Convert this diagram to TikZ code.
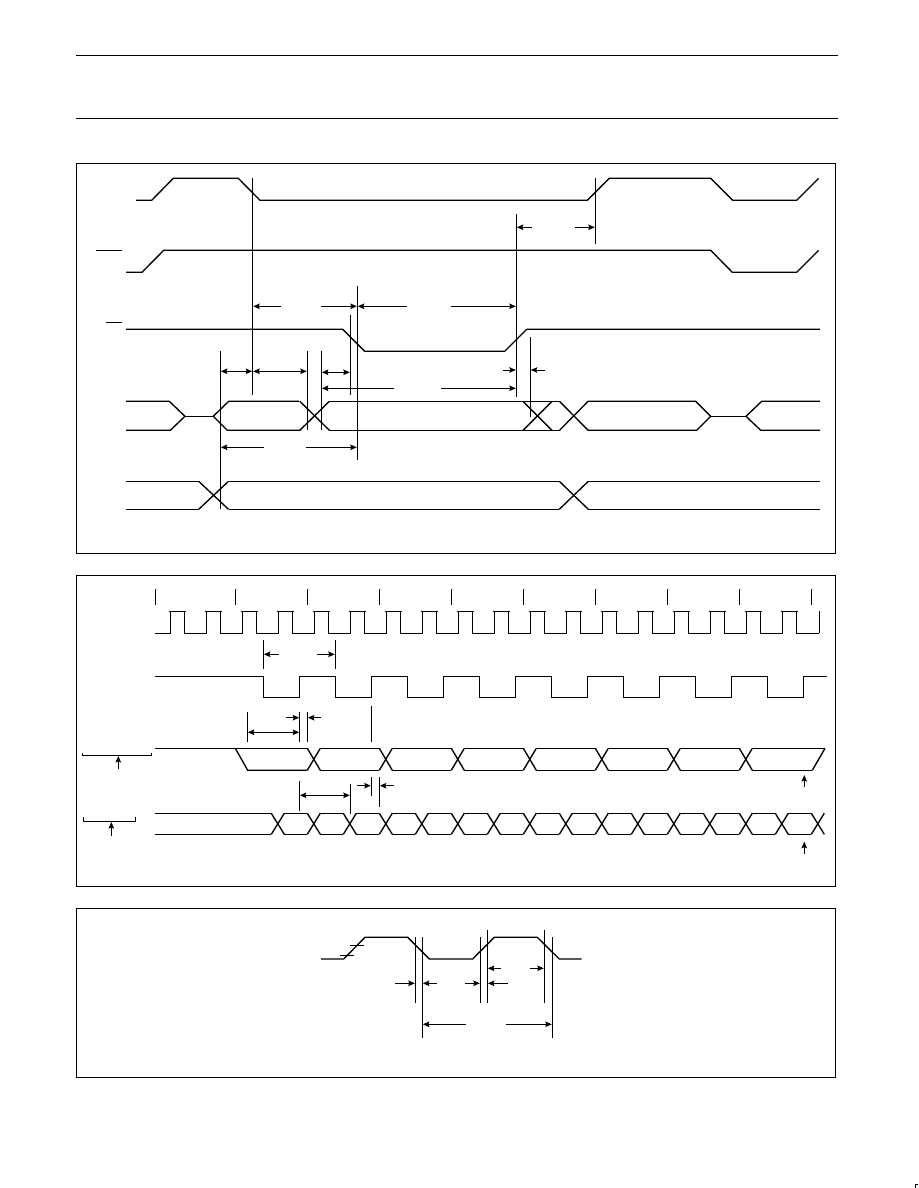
\documentclass[tikz,border=0pt]{standalone}
\usetikzlibrary{arrows.meta}
\tikzset{
	wave/.style={line width=1.35pt, line join=miter},
	guide/.style={line width=1pt},
	panel/.style={line width=1.1pt},
	dim/.style={line width=1pt, -{Stealth[length=6.5pt,width=5.5pt,inset=1pt]}},
	dimboth/.style={line width=1pt, {Stealth[length=6.5pt,width=5.5pt,inset=1pt]}-{Stealth[length=6.5pt,width=5.5pt,inset=1pt]}}
}
\def\crossing(#1:#2:#3:#4){\draw[wave] (#1, #2) -- ({#1+#4}, #3); \draw[wave] (#1, #3) -- ({#1+#4}, #2);}
\begin{document}
\begin{tikzpicture}[x=1pt, y=-1pt]
		\useasboundingbox (0, 0) rectangle (918, 1188);
		%%%%% START %%%%%
		\draw[panel] (76, 55.5) -- (838, 55.5);
		\draw[panel] (76, 118.5) -- (838, 118.5);
		\draw[panel] (76.3, 163.7) rectangle (835.7, 553.3);
		\draw[panel] (76.3, 575.3) rectangle (835.7, 886.3);
		\draw[panel] (76.3, 908.5) rectangle (835.7, 1077.4);
		\draw[line width=1pt] (915.5, 1188) -- (915.5, 1184.5) -- (918, 1184.5);
		
		% first panel: waves
		\draw[wave] (136, 200.3) -- (151.7, 200.3) -- (173.3, 178.3) -- (238.3, 178.3) -- (260, 200.3) -- (587.3, 200.3) -- (609.3, 178.3) -- (710.7, 178.3) -- (732.7, 200.3) -- (796.7, 200.3) -- (818.7, 178.3);
		
		\draw[guide] (96, 250.3) -- (122, 250.3);
		\draw[wave] (126, 272.3) -- (142, 272.3) -- (163.7, 250.3) -- (710.7, 250.3) -- (732.3, 272.3) -- (796.7, 272.3) -- (818.7, 250.3);
		
		\draw[guide] (106, 322.3) -- (122, 322.3);
		\draw[wave] (126, 329.3) -- (342.7, 329.3) -- (364.7, 351.3) -- (504.7, 351.3) -- (526.7, 329.3) -- (820, 329.3);
		
		\draw[wave] (126, 401.3) -- (169.3, 401.3) -- (185, 416.3) -- (170.3, 430.3) -- (126, 430.3);
		\draw[wave] (185, 416.3) -- (213.3, 416.3);
		\draw[wave] (299.3, 401.3) -- (228.7, 401.3) -- (213.3, 416.3) -- (227.3, 430.3) -- (300.3, 430.3);
		\crossing(299.8:401.3:430.3:29.6)
		\draw[wave] (329.4, 401.3) -- (560, 401.3);
		\draw[wave] (329.4, 430.3) -- (560, 430.3);
		\crossing(523:401.3:430.3:29)
		\crossing(559.5:401.3:430.3:28.6)
		\draw[wave] (588.1, 401.3) -- (695.7, 401.3) -- (710.7, 416.3) -- (696.7, 430.3) -- (588.1, 430.3);
		\draw[wave] (710.7, 416.3) -- (746, 416.3);
		\draw[wave] (820, 401.3) -- (761.7, 401.3) -- (746, 416.3) -- (760.7, 430.3) -- (820, 430.3);
		
		\draw[wave] (126, 481.3) -- (198.7, 481.3);
		\draw[wave] (126, 509.3) -- (198.7, 509.3);
		\crossing(198.7:481.3:509.3:29.8)
		\draw[wave] (228.5, 481.3) -- (559.3, 481.3);
		\draw[wave] (228.5, 509.3) -- (559.3, 509.3);
		\crossing(559.3:481.3:509.3:29)
		\draw[wave] (588.3, 481.3) -- (820, 481.3);
		\draw[wave] (588.3, 509.3) -- (820, 509.3);
		
		% first panel: guides
		\draw[guide] (252.7, 178.3) -- (252.7, 394.7);
		\draw[guide] (220.3, 351) -- (220.3, 509.3);
		\draw[guide] (307.3, 351) -- (307.3, 430.3);
		\draw[guide] (321.3, 351) -- (321.3, 430.3);
		\draw[guide] (350.3, 315) -- (350.3, 394.7);
		\draw[guide] (357.3, 286) -- (357.3, 459.7);
		\draw[guide] (516.3, 214) -- (516.3, 396.7);
		\draw[guide] (595.3, 178.3) -- (595.3, 243.7);
		\draw[guide] (530.3, 337) -- (530.3, 416.7);
		
		% first panel: arrows
		\draw[dim] (531.7, 227.3) -- (516.8, 227.3);
		\draw[dim] (575, 227.3) -- (594.8, 227.3);
		\draw[dim] (280.7, 306.3) -- (253.2, 306.3);
		\draw[dim] (321, 306.3) -- (356.8, 306.3);
		\draw[dim] (406.7, 306.3) -- (357.8, 306.3);
		\draw[dim] (451, 306.3) -- (515.8, 306.3);
		\draw[dimboth] (220.8, 371.3) -- (252.2, 371.3);
		\draw[dimboth] (253.2, 371.3) -- (306.8, 371.3);
		\draw[dimboth] (321.8, 372.3) -- (349.8, 372.3);
		\draw[dim] (394, 388.3) -- (321.8, 388.3);
		\draw[dim] (441, 388.3) -- (515.8, 388.3);
		\draw[dim] (503, 370) -- (515.8, 370);
		\draw[dim] (545, 370) -- (530.8, 370);
		\draw[dim] (264, 447.3) -- (220.8, 447.3);
		\draw[dim] (306, 447.3) -- (356.8, 447.3);
		
		% second panel: ticks and clock
		\draw[guide] (155.3, 589) -- (155.3, 604.7);
		\foreach \k in {0,...,8} {
			\draw[guide] ({235.3+72*\k}, 589) -- ({235.3+72*\k}, 604.7);
		}
		\draw[wave] (155.3, 633.3) -- (170.5, 633.3);
		\foreach \k in {0,...,17} {
			\draw[wave] ({170.5+36*\k}, 633.3) -- ({170.5+36*\k}, 611.3);
			\draw[wave] ({169.3+36*\k}, 611.3) -- ({185.7+36*\k}, 611.3);
			\draw[wave] ({184.7+36*\k}, 611.3) -- ({184.7+36*\k}, 633.3) -- ({206.5+36*\k}, 633.3);
		}
		\draw[guide] (819, 633.3) -- (819, 611.3);
		
		% second panel: divided clock
		\draw[wave] (155.3, 676.3) -- (263.7, 676.3);
		\foreach \k in {0,...,7} {
			\draw[wave] ({263.7+72*\k}, 676.3) -- ({263.7+72*\k}, 697.3) -- ({299.7+72*\k}, 697.3) -- ({299.7+72*\k}, 676.3);
			\draw[wave] ({299.7+72*\k}, 676.3) -- ({min(335.7+72*\k,827)}, 676.3);
		}
		
		\draw[guide] (263.3, 640) -- (263.3, 669.3);
		\draw[guide] (335.3, 640) -- (335.3, 669.3);
		\draw[dim] (279, 654.3) -- (263.8, 654.3);
		\draw[dim] (317, 654.3) -- (334.8, 654.3);
		
		\draw[guide] (247.3, 712) -- (247.3, 742);
		\draw[guide] (299.7, 712) -- (299.7, 742);
		\draw[guide] (307.3, 712) -- (307.3, 742);
		\draw[guide] (371.3, 705.7) -- (371.3, 742);
		\draw[dim] (286, 717.7) -- (299.2, 717.7);
		\draw[dim] (321, 717.7) -- (307.8, 717.7);
		\draw[dimboth] (247.8, 732.3) -- (299.2, 732.3);
		
		% second panel: data
		\draw[wave] (155.3, 748.3) -- (307.3, 748.3);
		\draw[wave] (235.3, 748.3) -- (247.7, 770.3) -- (307.3, 770.3);
		\foreach \k in {0,...,6} {
			\crossing({307.3+72*\k}:748.3:770.3:13)
		}
		\foreach \k in {0,...,5} {
			\draw[wave] ({320.3+72*\k}, 748.3) -- ({379.3+72*\k}, 748.3);
			\draw[wave] ({320.3+72*\k}, 770.3) -- ({379.3+72*\k}, 770.3);
		}
		\draw[wave] (752.3, 748.3) -- (825, 748.3);
		\draw[wave] (752.3, 770.3) -- (812.3, 770.3);
		\draw[wave] (812.3, 770.3) -- (825, 748.3);
		
		\draw[guide] (82.3, 753) -- (82.3, 755.3) -- (151.7, 755.3) -- (151.7, 753);
		\draw[dim] (118.3, 769) -- (118.3, 756);
		\draw[guide] (83.3, 817.3) -- (83.3, 821.3) -- (135.7, 821.3) -- (135.7, 817.3);
		\draw[dim] (111.3, 835.7) -- (111.3, 822);
		
		\draw[guide] (299.3, 781) -- (299.3, 810.7);
		\draw[guide] (350.3, 784.3) -- (350.3, 813.7);
		\draw[guide] (371.3, 777) -- (371.3, 795.7);
		\draw[guide] (379.3, 777) -- (379.3, 806.7);
		\draw[dimboth] (299.8, 795.3) -- (349.8, 795.3);
		\draw[dim] (357, 785.7) -- (370.8, 785.7);
		\draw[dim] (393.7, 785.7) -- (379.8, 785.7);
		
		\draw[wave] (155.3, 813.3) -- (271.3, 813.3);
		\draw[wave] (155.3, 834.3) -- (271.3, 834.3);
		\foreach \k in {0,...,15} {
			\crossing({271.3+36*\k}:813.3:834.3:13)
		}
		\foreach \k in {0,...,14} {
			\draw[wave] ({284.3+36*\k}, 813.3) -- ({307.3+36*\k}, 813.3);
			\draw[wave] ({284.3+36*\k}, 834.3) -- ({307.3+36*\k}, 834.3);
		}
		\draw[dim] (804.3, 787.3) -- (804.3, 775);
		\draw[dim] (804.3, 853.7) -- (804.3, 841.7);
		
		% third panel
		\draw[wave] (321, 959) -- (343.7, 959) -- (365, 937.3) -- (407.7, 937.3) -- (429.3, 959) -- (472.7, 959) -- (494.3, 937.3) -- (537.3, 937.3) -- (559.3, 959) -- (581.7, 959);
		\draw[guide] (350, 945.3) -- (364, 945.3);
		\draw[guide] (340, 955.3) -- (354, 955.3);
		
		\draw[guide] (415.3, 937.3) -- (415.3, 1002.7);
		\draw[guide] (422.3, 937.3) -- (422.3, 1038.3);
		\draw[guide] (480.3, 937.3) -- (480.3, 1002.7);
		\draw[guide] (487.3, 930) -- (487.3, 1002.7);
		\draw[guide] (544.3, 930) -- (544.3, 1002.7);
		\draw[guide] (552.3, 937.3) -- (552.3, 1038.3);
		
		\draw[dim] (395, 983.3) -- (414.8, 983.3);
		\draw[dim] (436.7, 983.3) -- (422.8, 983.3);
		\draw[dim] (465, 983.3) -- (479.8, 983.3);
		\draw[dim] (508, 983.3) -- (487.8, 983.3);
		\draw[dim] (501, 968.3) -- (487.8, 968.3);
		\draw[dim] (530, 968.3) -- (543.8, 968.3);
		\draw[dim] (465.7, 1024.3) -- (422.8, 1024.3);
		\draw[dim] (506, 1024.3) -- (551.8, 1024.3);
		%%%%% END %%%%%
	\end{tikzpicture}
\end{document}
